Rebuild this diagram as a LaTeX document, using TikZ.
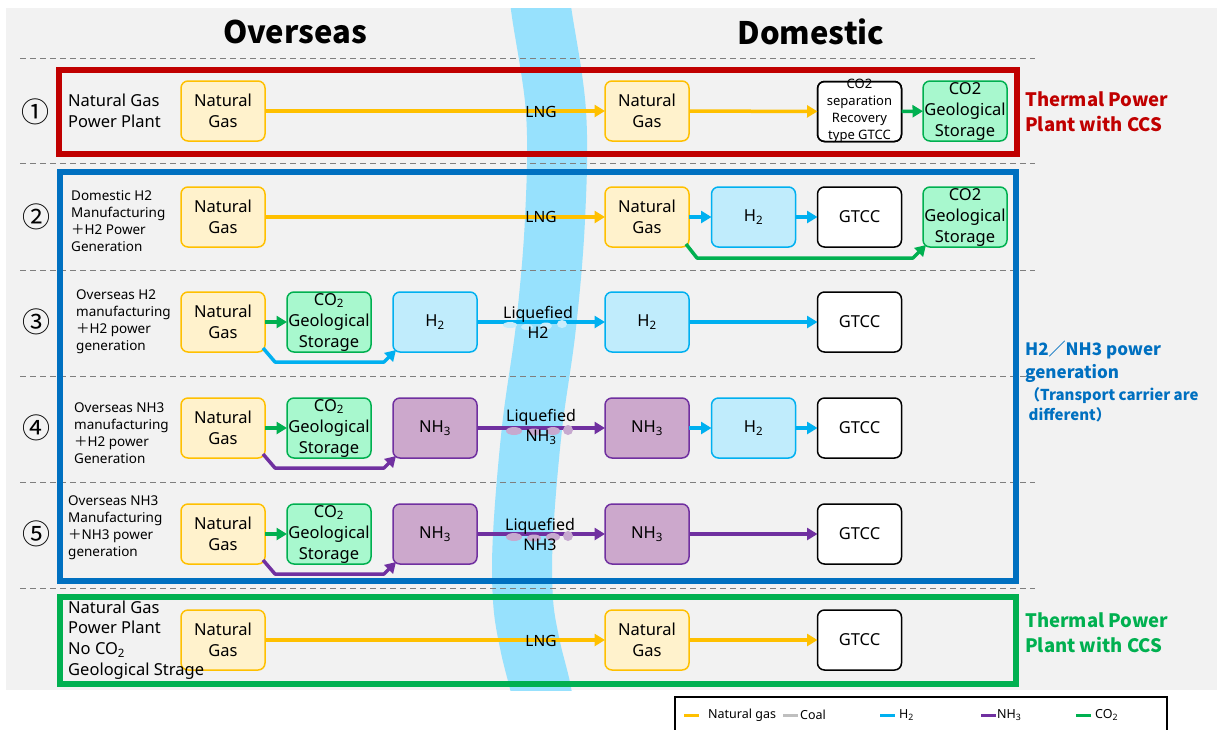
\documentclass[tikz,border=0pt]{standalone}
\usepackage{fontspec}
\setmainfont{Noto Sans}
\newfontfamily\cjk{Noto Sans CJK JP}
\usetikzlibrary{arrows.meta}
\definecolor{bggray}{HTML}{F2F2F2}
\definecolor{rivercol}{HTML}{97E1FD}
\definecolor{dashcol}{HTML}{7F7F7F}
\definecolor{ngline}{HTML}{FFC000}
\definecolor{ngfill}{HTML}{FFF2CC}
\definecolor{coline}{HTML}{00B050}
\definecolor{cofill}{HTML}{A8F8CE}
\definecolor{hline}{HTML}{00B0F0}
\definecolor{hfill}{HTML}{C0ECFC}
\definecolor{nline}{HTML}{7030A0}
\definecolor{nfill}{HTML}{CCA8CC}
\definecolor{redf}{HTML}{C00000}
\definecolor{bluef}{HTML}{0070C0}
\definecolor{greenf}{HTML}{00B050}
\definecolor{coalcol}{HTML}{BFBFBF}
\definecolor{blobh}{HTML}{C9EEFC}
\definecolor{blobn}{HTML}{C7A9CF}
\newcommand\boxfont{\fontsize{16.5}{21}\selectfont}
\newcommand\rowfont{\fontsize{13.5}{17}\selectfont}
\tikzset{
  box/.style={rounded corners=7pt, minimum width=84pt, minimum height=60pt, line width=1.5pt,
    align=center, inner sep=0pt, outer sep=0pt, font=\boxfont},
  ngbox/.style={box, draw=ngline, fill=ngfill},
  cobox/.style={box, draw=coline, fill=cofill},
  hbox/.style={box, draw=hline, fill=hfill},
  nbox/.style={box, draw=nline, fill=nfill},
  gbox/.style={box, draw=black, fill=white},
  arr/.style={line width=3.5pt, -{Triangle[length=10.5pt,width=12pt]}},
  ngarr/.style={arr, draw=ngline},
  coarr/.style={arr, draw=coline},
  harr/.style={arr, draw=hline},
  narr/.style={arr, draw=nline},
  frame/.style={line width=6pt},
  sep/.style={draw=dashcol, line width=1pt, dash pattern=on 6pt off 4pt},
  txt/.style={inner sep=0pt, align=left, anchor=west},
  rowtxt/.style={txt, font=\rowfont},
  bigtxt/.style={txt, font=\fontsize{16.5}{20.7}\selectfont},
  circ/.style={inner sep=0pt, font=\cjk\fontsize{28}{30}\selectfont},
  lng/.style={inner sep=0pt, font=\fontsize{15.5}{18}\selectfont},
  lq/.style={inner sep=0pt, align=center, font=\fontsize{16}{20}\selectfont},
  leg/.style={inner sep=0pt, anchor=west, font=\fontsize{12.5}{14}\selectfont},
  legline/.style={line width=3pt},
  head/.style={inner sep=0pt, font=\cjk\fontsize{31}{36}\selectfont\bfseries},
}
\begin{document}
\begin{tikzpicture}[x=1pt,y=-1pt]
\useasboundingbox (0,0) rectangle (1217,729);
% background
\fill[bggray] (6,8) rectangle (1217,690);
% river
\begin{scope}
\clip (6,8) rectangle (1217,690);
\draw[rivercol, line width=60pt] plot[smooth, tension=0.6] coordinates
  {(538,-30) (541,8) (556,112) (555,219) (546,326) (532,428) (523,535) (523,600) (530,645) (541,690) (545,720)};
\end{scope}
% dashed separators
\foreach \yy in {58,163,270,376,482,588} \draw[sep] (20,\yy) -- (1035,\yy);
% headings
\node[head] (hO) at (295,32) {Overseas};
\node[head] (hD) at (811,32) {Domestic};
% frames
\draw[frame, redf] (59,70) rectangle (1017,154);
\draw[frame, bluef] (59.5,171.5) rectangle (1016,580.5);
\draw[frame, greenf] (59.5,597) rectangle (1016,684);
% circled numbers
\node[circ] (c1) at (35,112) {①};
\node[circ] (c2) at (36,217) {②};
\node[circ] (c3) at (36,322) {③};
\node[circ] (c4) at (36,428) {④};
\node[circ] (c5) at (36,534) {⑤};

% ---------- Row 1
\node[ngbox] (ng1) at (223,111) {Natural\\Gas};
\node[ngbox] (dng1) at (647,111) {Natural\\Gas};
\node[gbox] (sep1) at (859.5,111.5) {};
\node[inner sep=0pt, align=center, font=\fontsize{13}{16.8}\selectfont] (sept) at (859.5,111) {CO2\\separation\\Recovery\\type GTCC};
\draw[rounded corners=7pt, line width=1.5pt] (sep1.north west) rectangle (sep1.south east);
\node[cobox] (cs1) at (965,111) {CO2\\\makebox[0pt]{Geological}\\Storage};
\draw[ngarr] (ng1) -- (dng1);
\node[lng] (lng1) at (541,112) {LNG};
\draw[ngarr] (dng1) -- (sep1);
\draw[coarr] (sep1) -- (cs1);

% ---------- Row 2
\node[ngbox] (ng2) at (223,217) {Natural\\Gas};
\node[ngbox] (dng2) at (647,217) {Natural\\Gas};
\node[hbox] (h2d) at (753.5,217) {H\textsubscript{2}};
\node[gbox] (gt2) at (859.5,217) {GTCC};
\node[cobox] (cs2) at (965,217) {CO2\\\makebox[0pt]{Geological}\\Storage};
\draw[ngarr] (ng2) -- (dng2);
\node[lng] (lng2) at (541,217) {LNG};
\draw[harr] (dng2) -- (h2d);
\draw[harr] (h2d) -- (gt2);
\draw[coarr, line join=round] ([shift={(-3,-3)}]dng2.south east) -- ++(11,14) -- ([shift={(-10,11)}]cs2.south west) -- ([shift={(3,-2)}]cs2.south west);

% ---------- Row 3
\node[ngbox] (ng3) at (223,322) {Natural\\Gas};
\node[cobox] (co3) at (329,322) {CO\textsubscript{2}\\\makebox[0pt]{Geological}\\Storage};
\node[hbox] (h3o) at (435,322) {H\textsubscript{2}};
\node[hbox] (h3d) at (647,322) {H\textsubscript{2}};
\node[gbox] (gt3) at (859.5,322) {GTCC};
\draw[coarr] (ng3) -- (co3);
\draw[harr, line join=round] ([shift={(-2,-4)}]ng3.south east) -- ++(12,14) -- ([shift={(-9,10)}]h3o.south west) -- ([shift={(3,-2)}]h3o.south west);
\draw[harr] (h3o) -- (h3d);
\fill[blobh] (510,325) ellipse (7 and 3) (527,327) ellipse (6 and 3) (546,326) ellipse (6 and 3.5) (562,324) ellipse (5 and 4);
\node[lq] (lq3) at (538,322) {Liquefied\\H2};
\draw[harr] (h3d) -- (gt3);

% ---------- Row 4
\node[ngbox] (ng4) at (223,428) {Natural\\Gas};
\node[cobox] (co4) at (329,428) {CO\textsubscript{2}\\\makebox[0pt]{Geological}\\Storage};
\node[nbox] (n4o) at (435,428) {NH\textsubscript{3}};
\node[nbox] (n4d) at (647,428) {NH\textsubscript{3}};
\node[hbox] (h4d) at (753.5,428) {H\textsubscript{2}};
\node[gbox] (gt4) at (859.5,428) {GTCC};
\draw[coarr] (ng4) -- (co4);
\draw[narr, line join=round] ([shift={(-2,-4)}]ng4.south east) -- ++(12,14) -- ([shift={(-9,10)}]n4o.south west) -- ([shift={(3,-2)}]n4o.south west);
\draw[narr] (n4o) -- (n4d);
\fill[blobn] (514,431) ellipse (8 and 4) (534,432) ellipse (7 and 3.5) (553,431) ellipse (7 and 4) (568,430) ellipse (5 and 5);
\node[lq] (lq4) at (541,427) {Liquefied\\NH\textsubscript{3}};
\draw[harr] (n4d) -- (h4d);
\draw[harr] (h4d) -- (gt4);

% ---------- Row 5
\node[ngbox] (ng5) at (223,534) {Natural\\Gas};
\node[cobox] (co5) at (329,534) {CO\textsubscript{2}\\\makebox[0pt]{Geological}\\Storage};
\node[nbox] (n5o) at (435,534) {NH\textsubscript{3}};
\node[nbox] (n5d) at (647,534) {NH\textsubscript{3}};
\node[gbox] (gt5) at (859.5,534) {GTCC};
\draw[coarr] (ng5) -- (co5);
\draw[narr, line join=round] ([shift={(-2,-4)}]ng5.south east) -- ++(12,14) -- ([shift={(-9,10)}]n5o.south west) -- ([shift={(3,-2)}]n5o.south west);
\draw[narr] (n5o) -- (n5d);
\fill[blobn] (514,537) ellipse (8 and 4) (534,538) ellipse (7 and 3.5) (553,537) ellipse (7 and 4) (568,536) ellipse (5 and 5);
\node[lq] (lq5) at (540,534) {Liquefied\\NH3};
\draw[narr] (n5d) -- (gt5);

% ---------- Row 6
\node[ngbox] (ng6) at (223,640) {Natural\\Gas};
\node[ngbox] (dng6) at (647,640) {Natural\\Gas};
\node[gbox] (gt6) at (859.5,640) {GTCC};
\draw[ngarr] (ng6) -- (dng6);
\node[lng] (lng6) at (541,641) {LNG};
\draw[ngarr] (dng6) -- (gt6);

% row labels
\node[bigtxt] (t1) at (68,111) {Natural Gas\\Power Plant};
\node[rowtxt] (t2) at (71,221) {Domestic H2\\Manufacturing\\{\cjk ＋}H2 Power\\Generation};
\node[rowtxt] (t3) at (76,322) {Overseas H2\\manufacturing\\{\cjk ＋}H2 power\\generation};
\node[rowtxt] (t4) at (74,433) {Overseas NH3\\manufacturing\\{\cjk ＋}H2 power\\Generation};
\node[rowtxt] (t5) at (68,528) {Overseas NH3\\Manufacturing\\{\cjk ＋}NH3 power\\generation};
\node[bigtxt] (t6) at (68,640) {Natural Gas\\Power Plant\\No CO\textsubscript{2}\\Geological Strage};

% right-side labels
\node[txt, text=redf, font=\cjk\fontsize{18.5}{25}\selectfont\bfseries] (rl1) at (1025,112) {Thermal Power\\Plant with CCS};
\node[txt, text=bluef, font=\cjk\fontsize{17}{23}\selectfont\bfseries] (rl2) at (1025,362) {H2／NH3 power\\generation};
\node[txt, text=bluef, font=\cjk\fontsize{15}{20}\selectfont\bfseries] (rl3) at (1025,405) {（Transport carrier are\\\ different）};
\node[txt, text=greenf, font=\cjk\fontsize{18.5}{25}\selectfont\bfseries] (rl4) at (1025,633) {Thermal Power\\Plant with CCS};

% legend
\draw[line width=1.2pt] (675,697) rectangle (1167,745);
\coordinate (lg1a) at (684,715); \coordinate (lg1b) at (699,715);
\coordinate (lg2a) at (783,715); \coordinate (lg2b) at (798,715);
\coordinate (lg3a) at (880,715); \coordinate (lg3b) at (895,715);
\coordinate (lg4a) at (981,715); \coordinate (lg4b) at (996,715);
\coordinate (lg5a) at (1076,715); \coordinate (lg5b) at (1091,715);
\draw[legline, ngline] (lg1a) -- (lg1b);
\draw[legline, coalcol] (lg2a) -- (lg2b);
\draw[legline, hline] (lg3a) -- (lg3b);
\draw[legline, nline] (lg4a) -- (lg4b);
\draw[legline, coline] (lg5a) -- (lg5b);
\node[leg] (lt1) at (708,715) {Natural gas};
\node[leg] (lt2) at (800,715) {Coal};
\node[leg] (lt3) at (899,715) {H\textsubscript{2}};
\node[leg] (lt4) at (997,715) {NH\textsubscript{3}};
\node[leg] (lt5) at (1095,715) {CO\textsubscript{2}};
\end{tikzpicture}
\end{document}
